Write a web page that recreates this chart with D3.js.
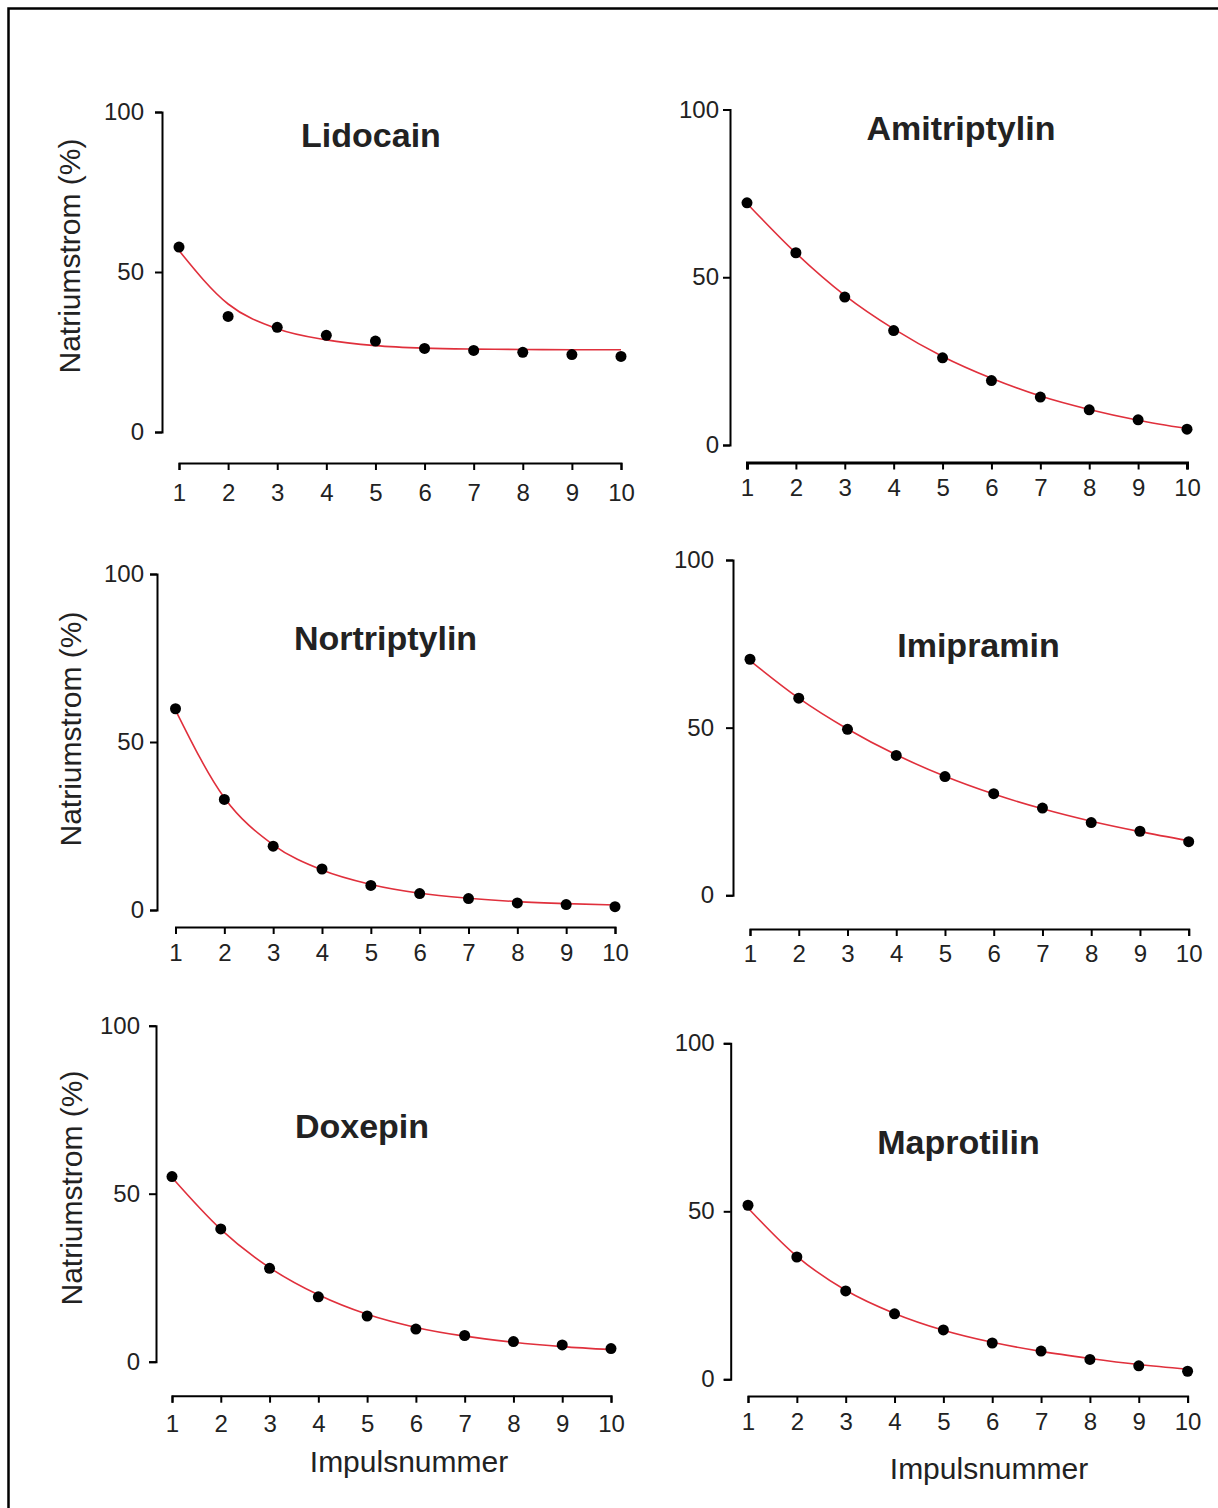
<!DOCTYPE html>
<html>
<head>
<meta charset="utf-8">
<script src="https://cdn.jsdelivr.net/npm/d3@7"></script>
<style>
  html, body { margin: 0; padding: 0; background: #fff; }
  svg { display: block; }
</style>
</head>
<body>
<div id="chart"></div>
<script>
// Natriumstrom (%) over Impulsnummer, six drugs, dots = measured, red = fit

const impulses = [1, 2, 3, 4, 5, 6, 7, 8, 9, 10];
const yTicks = [0, 50, 100];
const drugs = ['Lidocain', 'Amitriptylin', 'Nortriptylin', 'Imipramin', 'Doxepin', 'Maprotilin'];

const lidocain = [57.8, 36.1, 32.7, 30.2, 28.4, 26.1, 25.5, 24.9, 24.2, 23.6];
const amitriptylin = [72.2, 57.3, 44.1, 34.1, 26.0, 19.2, 14.3, 10.5, 7.5, 4.7];
const nortriptylin = [59.9, 32.9, 19.0, 12.2, 7.3, 4.9, 3.4, 2.1, 1.6, 1.0];
const imipramin = [70.4, 58.8, 49.5, 41.7, 35.4, 30.3, 26.0, 21.7, 19.1, 16.0];
const doxepin = [55.1, 39.5, 27.8, 19.3, 13.6, 9.7, 7.8, 6.0, 5.0, 3.9];
const maprotilin = [51.8, 36.4, 26.3, 19.5, 14.7, 10.8, 8.4, 5.9, 4.0, 2.4];

// fitted curve at each impulse
const lidocainFit = [56.7, 40.0, 32.3, 28.8, 27.0, 26.2, 25.9, 25.8, 25.7, 25.7];
const amitriptylinFit = [72.0, 57.2, 44.6, 34.6, 26.4, 19.9, 14.6, 10.6, 7.4, 4.9];
const nortriptylinFit = [59.5, 33.4, 19.4, 11.9, 7.6, 5.0, 3.5, 2.5, 1.9, 1.5];
const imipraminFit = [70.0, 58.8, 49.6, 41.9, 35.5, 30.2, 25.8, 22.1, 19.0, 16.3];
const doxepinFit = [54.8, 39.4, 28.0, 19.9, 14.1, 10.2, 7.6, 5.8, 4.5, 3.6];
const maprotilinFit = [51.0, 36.6, 26.5, 19.6, 14.6, 11.0, 8.3, 6.2, 4.4, 3.0];

const series = [lidocain, amitriptylin, nortriptylin, imipramin, doxepin, maprotilin];
const fits = [lidocainFit, amitriptylinFit, nortriptylinFit, imipraminFit, doxepinFit, maprotilinFit];

// panel geometry (pixels), each panel sits a little differently in the scan
const PANELS = [
  { ax: 162, y100: 112, y0: 432, xAxisY: 463, x1: 179, x10: 621, yPad: 11, xPad: 14, axisW: 2,
    title: [371, 147], ylab: [80, 256] },
  { ax: 730, y100: 109.5, y0: 445, xAxisY: 462.5, x1: 747, x10: 1187, yPad: 4, xPad: 9, axisW: 3,
    title: [961, 140] },
  { ax: 157, y100: 574, y0: 910, xAxisY: 927, x1: 175.5, x10: 615, yPad: 6, xPad: 10, axisW: 2,
    title: [385.5, 650], ylab: [81, 729] },
  { ax: 733, y100: 560, y0: 895.3, xAxisY: 929, x1: 750, x10: 1188.7, yPad: 12, xPad: 9, axisW: 2,
    title: [978.5, 657] },
  { ax: 156, y100: 1025.7, y0: 1361.7, xAxisY: 1395.7, x1: 172, x10: 611, yPad: 9, xPad: 12, axisW: 2,
    title: [362, 1138], ylab: [82, 1188], xlab: [409, 1472] },
  { ax: 730.7, y100: 1043.3, y0: 1379.3, xAxisY: 1396, x1: 748, x10: 1187.6, yPad: 9, xPad: 10, axisW: 2,
    title: [958.5, 1154], xlab: [989, 1479] },
];

const W = 1218, H = 1508;
const FONT = '"Liberation Sans", Arial, Helvetica, sans-serif';
const TEXT = '#222';
const RED = '#e0303c';
const TICK = 7;

const svg = d3.select('#chart').append('svg')
  .attr('width', W)
  .attr('height', H);

svg.append('rect').attr('width', W).attr('height', H).attr('fill', '#fff');

// frame, only top and left edges fall inside the picture
svg.append('rect')
  .attr('x', 8.5).attr('y', 8.5)
  .attr('width', W + 20).attr('height', H + 20)
  .attr('fill', 'none')
  .attr('stroke', '#000')
  .attr('stroke-width', 2.5);

PANELS.forEach((p, i) => {
  const g = svg.append('g').attr('class', 'panel');
  const x = d3.scaleLinear().domain([1, 10]).range([p.x1, p.x10]);
  const y = d3.scaleLinear().domain([0, 100]).range([p.y0, p.y100]);

  // y axis
  const yAxisG = g.append('g')
    .attr('transform', `translate(${p.ax},0)`)
    .call(d3.axisLeft(y).tickValues(yTicks).tickSize(TICK).tickSizeOuter(TICK).tickPadding(p.yPad));

  // x axis
  const xAxisG = g.append('g')
    .attr('transform', `translate(0,${p.xAxisY})`)
    .call(d3.axisBottom(x).tickValues(impulses).tickSize(TICK).tickSizeOuter(TICK).tickPadding(p.xPad));

  [yAxisG, xAxisG].forEach(a => {
    a.select('.domain').attr('stroke', '#000').attr('stroke-width', 2);
    a.selectAll('.tick line').attr('stroke', '#000').attr('stroke-width', 2);
    a.selectAll('.tick text')
      .attr('font-family', FONT)
      .attr('font-size', 24)
      .attr('fill', TEXT);
  });
  xAxisG.select('.domain').attr('stroke-width', p.axisW);

  // fitted curve
  const line = d3.line()
    .x((d, j) => x(impulses[j]))
    .y(d => y(d))
    .curve(d3.curveMonotoneX);

  g.append('path')
    .datum(fits[i])
    .attr('d', line)
    .attr('fill', 'none')
    .attr('stroke', RED)
    .attr('stroke-width', 1.6);

  // measured points
  g.selectAll('.dot')
    .data(series[i])
    .join('circle')
    .attr('class', 'dot')
    .attr('cx', (d, j) => x(impulses[j]))
    .attr('cy', d => y(d))
    .attr('r', 5.5)
    .attr('fill', '#000');

  // drug name
  g.append('text')
    .attr('x', p.title[0]).attr('y', p.title[1])
    .attr('text-anchor', 'middle')
    .attr('font-family', FONT)
    .attr('font-size', 34)
    .attr('font-weight', 'bold')
    .attr('fill', TEXT)
    .text(drugs[i]);

  if (p.ylab) {
    g.append('text')
      .attr('transform', `translate(${p.ylab[0]},${p.ylab[1]}) rotate(-90)`)
      .attr('text-anchor', 'middle')
      .attr('font-family', FONT)
      .attr('font-size', 30)
      .attr('fill', TEXT)
      .text('Natriumstrom (%)');
  }

  if (p.xlab) {
    g.append('text')
      .attr('x', p.xlab[0]).attr('y', p.xlab[1])
      .attr('text-anchor', 'middle')
      .attr('font-family', FONT)
      .attr('font-size', 30)
      .attr('fill', TEXT)
      .text('Impulsnummer');
  }
});
</script>
</body>
</html>
